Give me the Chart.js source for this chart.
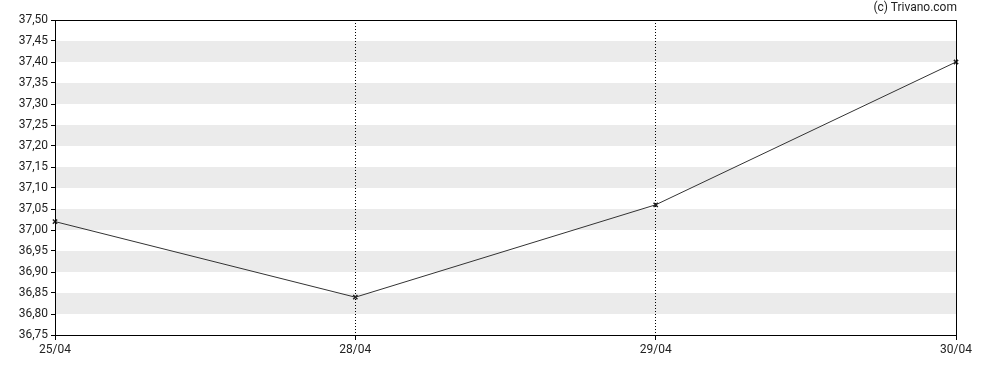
<!DOCTYPE html>
<html>
<head>
<meta charset="utf-8">
<script src="https://cdn.jsdelivr.net/npm/chart.js@4/dist/chart.umd.min.js"></script>
<style>
  html, body { margin:0; padding:0; background:#fff; }
  #wrap { position:relative; width:988px; height:370px; }
  #credit { position:absolute; top:0px; right:31px; font:12px Roboto, sans-serif; color:#222; }
</style>
</head>
<body>
<div id="wrap">
  <canvas id="chart" width="988" height="370"></canvas>
  <div id="credit">(c) Trivano.com</div>
</div>
<script>
// Datos
const days = ['25/04', '28/04', '29/04', '30/04'];
const prices = [37.02, 36.84, 37.06, 37.40];
const yMin = 36.75, yMax = 37.50, yStep = 0.05;

// bandas grises alternas (debajo de la rejilla) + marco
const bands = {
  id: 'bands',
  beforeDraw(chart){
    const {ctx, chartArea:a, scales:{y}} = chart;
    ctx.save();
    ctx.fillStyle = '#ebebeb';
    const ticks = y.ticks.map(t => t.value);
    for (let i = 0; i < ticks.length - 1; i++){
      const lo = ticks[i];
      const idx = Math.round((lo - yMin) / yStep);
      if (idx % 2 === 1){
        const top = y.getPixelForValue(ticks[i+1]);
        const bot = y.getPixelForValue(lo);
        ctx.fillRect(a.left, top, a.right - a.left, bot - top);
      }
    }
    ctx.restore();
  },
  afterDraw(chart){
    const {ctx, chartArea:a} = chart;
    ctx.save();
    ctx.strokeStyle = '#000';
    ctx.lineWidth = 1;
    ctx.strokeRect(Math.round(a.left) + 0.5, Math.round(a.top) + 0.5, Math.round(a.right - a.left), Math.round(a.bottom - a.top));
    ctx.restore();
  }
};

const tickFont = { family: 'Roboto', size: 12 };

new Chart(document.getElementById('chart'), {
  type: 'line',
  data: {
    labels: days,
    datasets: [{
      data: prices,
      borderColor: '#333',
      borderWidth: 1,
      tension: 0,
      pointStyle: 'crossRot',
      pointRadius: 3,
      pointBorderWidth: 1.5,
      pointBorderColor: '#222'
    }]
  },
  options: {
    responsive: false,
    animation: false,
    layout: { padding: { top: 20, right: 32, left: 0, bottom: 0 } },
    plugins: { legend: { display: false }, tooltip: { enabled: false } },
    scales: {
      x: {
        offset: false,
        afterFit: s => { s.height = 35; },
        grid: {
          color: c => (c.index === 0 || c.index === days.length - 1) ? 'rgba(0,0,0,0)' : '#000',
          tickColor: '#000',
          tickLength: 5,
          tickBorderDash: [],
          lineWidth: 1
        },
        border: { display: true, color: '#000', dash: [1, 2] },
        ticks: { color: '#222', font: tickFont, maxRotation: 0, padding: 3 }
      },
      y: {
        min: yMin,
        max: yMax,
        afterFit: s => { s.width = 55; },
        grid: { drawOnChartArea: false, tickColor: '#000', tickLength: 4 },
        border: { display: true, color: '#000' },
        ticks: {
          stepSize: yStep,
          color: '#222',
          font: tickFont,
          padding: 3,
          callback: v => v.toFixed(2).replace('.', ',')
        }
      }
    }
  },
  plugins: [bands]
});
</script>
</body>
</html>
